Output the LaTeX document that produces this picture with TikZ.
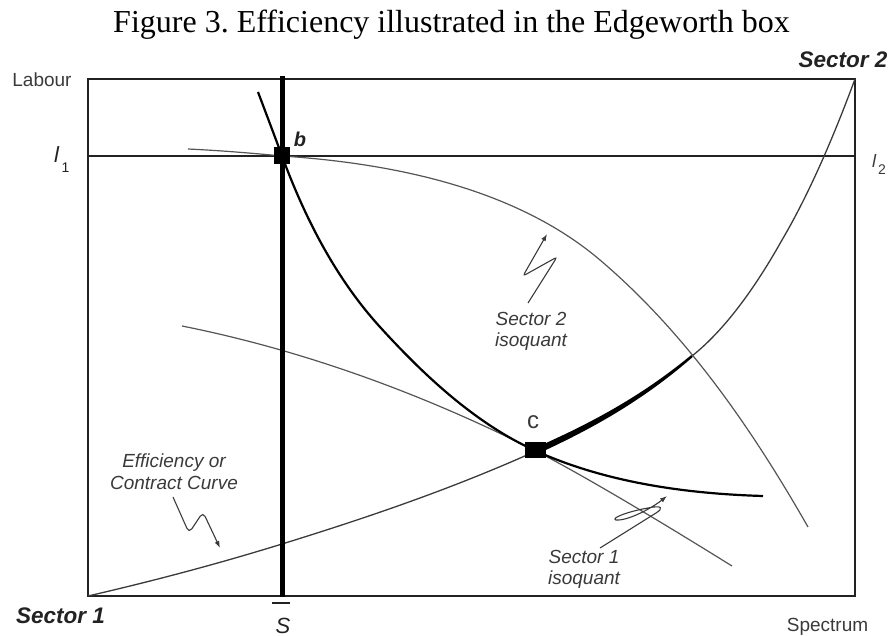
\documentclass[tikz,border=0pt]{standalone}
\usepackage{fontspec}
\setmainfont{Liberation Serif}
\setsansfont{Liberation Sans}
\usetikzlibrary{arrows.meta}
\definecolor{labgray}{HTML}{3A3A3A}
\definecolor{curvegray}{HTML}{555555}
\definecolor{framegray}{HTML}{222222}
\begin{document}
\begin{tikzpicture}[x=1pt,y=-1pt,
  titlefont/.style={font=\fontsize{32}{36}\selectfont, inner sep=0pt, anchor=base},
  smalllab/.style={font=\sffamily\fontsize{19}{22}\selectfont, text=labgray, inner sep=0pt},
  itlab/.style={font=\sffamily\itshape\fontsize{19}{21}\selectfont, text=labgray, inner sep=0pt, align=center},
  bigit/.style={font=\sffamily\bfseries\itshape\fontsize{22.5}{26}\selectfont, text=framegray, inner sep=0pt, anchor=base},
  frame/.style={line width=2pt, draw=framegray},
  thinline/.style={line width=1.2pt, draw=curvegray},
  contract/.style={line width=1.3pt, draw=labgray},
  isoone/.style={line width=2.2pt, draw=black},
  squig/.style={line width=1.1pt, draw=labgray, rounded corners=3pt, -{Latex[length=7pt,width=5pt]}},
  pointbox/.style={fill=black, draw=none, inner sep=0pt}
]
\useasboundingbox (0,0) rectangle (893,636);

% title
\node[titlefont] (title) at (451.5,33) {\frenchspacing Figure 3. Efficiency illustrated in the Edgeworth box};

% box
\coordinate (O1) at (88,596);
\coordinate (O2) at (855,79);
\draw[frame] (88,79) rectangle (855,596);

% l1 -- l2 line
\coordinate (L1) at (88,156);
\coordinate (L2) at (855,156);
\draw[frame] (L1) -- (L2);

% key points
\coordinate (B) at (282,156);
\coordinate (C) at (536,451);
\coordinate (CE) at (692,356);

% contract curve (thin parts)
\draw[contract] (O1) .. controls (152.7,581.1) and (217.3,564.0) .. (282,544)
  .. controls (366.7,517.8) and (451.3,489.1) .. (C);
\draw[contract] (CE) .. controls (719.3,334.2) and (749.3,298.2) .. (782,240)
  .. controls (806.3,198.7) and (830.7,144.7) .. (O2);
% contract curve thick segment (tapering, filled)
\fill[black] (534.6,448.1) .. controls (586.9,425.0) and (638.6,398.5) .. (691.2,355.1)
  -- (692.8,356.9) .. controls (641.4,401.9) and (589.1,430.2) .. (537.4,453.9) -- cycle;

% sector 2 isoquant through b (thin)
\draw[thinline] (188,149) .. controls (220,150.5) and (250,153) .. (B)
  .. controls (392.7,163.3) and (515.4,188.1) .. (600,260)
  .. controls (686.1,333.2) and (752,428.9) .. (808,527);

% sector 2 isoquant through c (thin)
\draw[thinline] (182,326) .. controls (304.6,350.5) and (423.5,394.2) .. (C)
  .. controls (594,481.1) and (676.4,531.5) .. (732,566);

% sector 1 isoquant (black)
\draw[isoone] (258,92) .. controls (266,113.3) and (275.1,137.2) .. (B)
  .. controls (304.9,217.9) and (335.6,278.2) .. (380,327)
  .. controls (424.4,375.8) and (475.8,423.9) .. (C)
  .. controls (606.2,482.6) and (686,493.7) .. (763,496);

% vertical S line
\coordinate (Stop) at (282,76);
\coordinate (Sbot) at (282,597);
\draw[line width=5pt] (Stop) -- (Sbot);

% points b and c
\node[pointbox, minimum width=16pt, minimum height=17pt] (b) at (282,156) {};
\node[pointbox, minimum width=21pt, minimum height=16pt] (c) at (535.5,450) {};

% squiggle arrows
\draw[squig] (528,303) -- (557,257) -- (523,276) -- (547,234);
\draw[squig, rounded corners=5pt] (173,497) -- (189,533) -- (203,512) -- (220,548);
\draw[line width=1.1pt, draw=labgray, -{Latex[length=7pt,width=5pt]}] (600,548) -- (656,513)
  .. controls (664,508) and (662,505) .. (648,508)
  .. controls (630,511) and (610,518) .. (616,520)
  .. controls (628,521) and (652,508) .. (667,496);

% labels
\node[smalllab, anchor=base] (labour) at (42,87) {Labour};
\node[bigit] (sec2) at (843,68) {Sector 2};
\node[bigit] (sec1) at (60.5,623) {Sector 1};
\node[smalllab, anchor=base] (spectrum) at (827.5,631) {Spectrum};
\node[anchor=base west, inner sep=0pt, text=framegray, font=\sffamily\fontsize{22}{24}\selectfont] (l1) at (54,163) {\textit{l}\kern2pt\raisebox{-10pt}{\fontsize{14}{14}\selectfont 1}};
\node[anchor=base west, inner sep=0pt, text=labgray, font=\sffamily\fontsize{18}{20}\selectfont] (l2) at (872,168) {\textit{l}\kern1.5pt\raisebox{-7pt}{\fontsize{14}{14}\selectfont 2}};
\node[anchor=base, inner sep=0pt, text=framegray, font=\sffamily\bfseries\itshape\fontsize{20}{20}\selectfont] (blab) at (300,147) {b};
\node[anchor=base, inner sep=0pt, text=labgray, font=\sffamily\fontsize{24}{24}\selectfont] (clab) at (533,428) {c};
\node[anchor=base, inner sep=0pt, text=framegray, font=\sffamily\itshape\fontsize{22}{22}\selectfont] (slab) at (283,633) {S};
\draw[line width=1.3pt, draw=framegray] (272,603) -- (290,603);

\node[itlab] (efflab) at (174,471.5) {Efficiency or\\[1pt]Contract Curve};
\node[itlab] (s2lab) at (531,331.5) {Sector 2\\isoquant};
\node[itlab] (s1lab) at (584,569.5) {Sector 1\\isoquant};
\end{tikzpicture}
\end{document}
